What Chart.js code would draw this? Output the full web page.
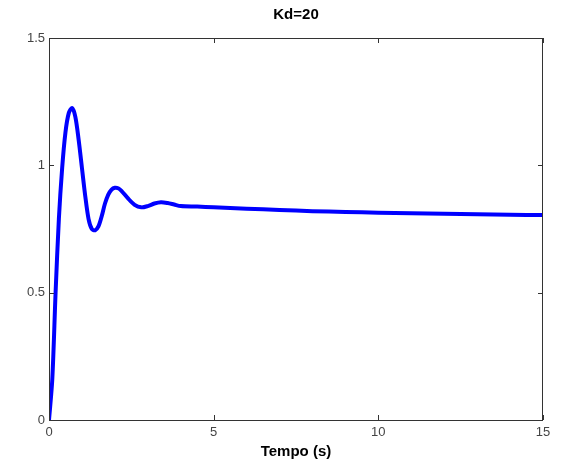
<!DOCTYPE html>
<html>
<head>
<meta charset="utf-8">
<script src="https://cdn.jsdelivr.net/npm/chart.js@4.4.1/dist/chart.umd.min.js"></script>
<style>
  html, body { margin: 0; padding: 0; background: #fff; }
  #wrap { width: 565px; height: 464px; }
</style>
</head>
<body>
<div id="wrap"><canvas id="c" width="565" height="464"></canvas></div>
<script>
// Step response
const times = [0, 0.1, 0.2, 0.3, 0.4, 0.5, 0.6, 0.7, 0.8, 0.9, 1.0, 1.1, 1.2, 1.3, 1.4, 1.5, 1.6, 1.7, 1.8, 1.9, 2.0, 2.1, 2.2, 2.4, 2.6, 2.8, 3.0, 3.2, 3.4, 3.6, 3.8, 4.0, 4.5, 5, 6, 7, 8, 9, 10, 11, 12, 13, 14, 15];
const response = [0, 0.16, 0.5, 0.79, 0.99, 1.13, 1.205, 1.225, 1.19, 1.1, 0.99, 0.88, 0.79, 0.75, 0.745, 0.76, 0.8, 0.85, 0.885, 0.905, 0.912, 0.91, 0.9, 0.87, 0.845, 0.835, 0.84, 0.85, 0.855, 0.852, 0.846, 0.84, 0.838, 0.835, 0.83, 0.825, 0.82, 0.817, 0.814, 0.812, 0.81, 0.808, 0.806, 0.805];
const xTicks = [0, 5, 10, 15];
const yTicks = [0, 0.5, 1, 1.5];

const labelFont = { family: 'Liberation Sans, Arial, sans-serif', size: 13 };

// MATLAB-like box with inward tick marks and title
const boxPlugin = {
    id: 'box',
    afterDraw(chart) {
        const { ctx, chartArea: a, scales } = chart;
        ctx.save();
        ctx.strokeStyle = '#333';
        ctx.lineWidth = 1;
        ctx.strokeRect(a.left + 0.5, a.top + 0.5, a.right - a.left - 1, a.bottom - a.top);
        ctx.beginPath();
        xTicks.forEach(v => {
            const x = Math.round(scales.x.getPixelForValue(v)) + 0.5;
            ctx.moveTo(x, a.bottom); ctx.lineTo(x, a.bottom - 5);
            ctx.moveTo(x, a.top); ctx.lineTo(x, a.top + 5);
        });
        yTicks.forEach(v => {
            const y = Math.round(scales.y.getPixelForValue(v)) + 0.5;
            ctx.moveTo(a.left, y); ctx.lineTo(a.left + 5, y);
            ctx.moveTo(a.right, y); ctx.lineTo(a.right - 5, y);
        });
        ctx.stroke();
        ctx.fillStyle = '#000';
        ctx.font = 'bold 15px Liberation Sans, Arial, sans-serif';
        ctx.textAlign = 'center';
        ctx.textBaseline = 'middle';
        ctx.fillText('Kd=20', (a.left + a.right) / 2, 15);
        ctx.restore();
    }
};

new Chart(document.getElementById('c'), {
    type: 'line',
    data: {
        datasets: [{
            data: times.map((t, i) => ({ x: t, y: response[i] })),
            borderColor: '#0000ff',
            borderWidth: 4,
            pointRadius: 0,
            tension: 0.3,
            fill: false
        }]
    },
    options: {
        responsive: false,
        animation: false,
        layout: { padding: { top: 38, right: 22, left: 0, bottom: 0 } },
        plugins: { legend: { display: false }, tooltip: { enabled: false }, title: { display: false } },
        scales: {
            x: {
                type: 'linear', min: 0, max: 15,
                afterFit: s => { s.height = 44; },
                afterBuildTicks: s => { s.ticks = xTicks.map(v => ({ value: v })); },
                grid: { display: false, drawTicks: false },
                border: { display: false },
                ticks: { color: '#444', font: labelFont, padding: 5, maxRotation: 0, callback: v => String(v) },
                title: {
                    display: true, text: 'Tempo (s)', color: '#000',
                    font: { family: 'Liberation Sans, Arial, sans-serif', size: 15, weight: 'bold' },
                    padding: { top: 0, bottom: 3 }
                }
            },
            y: {
                type: 'linear', min: 0, max: 1.5,
                afterFit: s => { s.width = 49; },
                afterBuildTicks: s => { s.ticks = yTicks.map(v => ({ value: v })); },
                grid: { display: false, drawTicks: false },
                border: { display: false },
                ticks: { color: '#444', font: labelFont, padding: 4, callback: v => String(v) }
            }
        }
    },
    plugins: [boxPlugin]
});
</script>
</body>
</html>
